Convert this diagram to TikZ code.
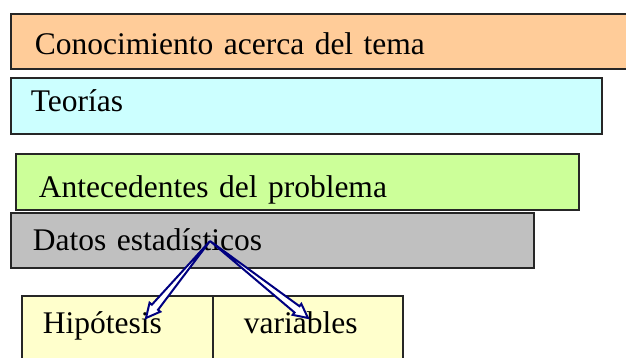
\documentclass[tikz,border=0pt]{standalone}
\usepackage{fontspec}
\setmainfont{Liberation Serif}
\usetikzlibrary{calc}
\definecolor{temaorange}{HTML}{FFCC99}
\definecolor{teoriacyan}{HTML}{CCFFFF}
\definecolor{antegreen}{HTML}{CCFF99}
\definecolor{datosgray}{HTML}{C0C0C0}
\definecolor{hipyellow}{HTML}{FFFFCC}
\definecolor{arrownavy}{HTML}{000080}
\tikzset{
  barbox/.style={rectangle, draw=black!85, line width=1.7pt, anchor=north west, align=left, inner ysep=0pt, text depth=0pt, font=\fontsize{31.5}{36}\selectfont},
  hollowarrow/.style={draw=arrownavy, line width=2pt, fill=white, line join=miter}
}

\begin{document}
\begin{tikzpicture}[x=1pt, y=-1pt]
\useasboundingbox (0,0) rectangle (626,358);
\clip (0,0) rectangle (626,358);
% Bars
\node (tema) [barbox, fill=temaorange, minimum height=55pt, inner xsep=24pt, text width=582pt, text height=27pt] at (10,13) {Conocimiento acerca del tema};
\node (teorias) [barbox, fill=teoriacyan, minimum height=56pt, inner xsep=20pt, text width=551pt, text height=12pt] at (10,77) {Teorías};
\node (antecedentes) [barbox, fill=antegreen, minimum height=56pt, inner xsep=23pt, text width=517pt, text height=32pt] at (15,153) {Antecedentes del problema};
\node (datos) [barbox, fill=datosgray, minimum height=55pt, inner xsep=22pt, text width=479pt, text height=21pt] at (10,212) {Datos estadísticos};
\node (hipotesis) [barbox, fill=hipyellow, minimum height=75pt, inner xsep=21pt, text width=149pt, text height=0pt] at (21,295) {Hipótesis};
\node (variables) [barbox, fill=hipyellow, minimum height=75pt, inner xsep=31pt, text width=128pt, text height=0pt] at (212,295) {variables};

% Arrows
\coordinate (apex) at (210,241);
\coordinate (hiptip) at (146,318);
\coordinate (vartip) at (308,318);
\foreach \tip in {hiptip,vartip}
  \draw [hollowarrow] (apex) -- ($(\tip)!14pt!(apex)!4pt!90:(\tip)$) -- ($(\tip)!14pt!(apex)!7pt!90:(\tip)$) -- (\tip) -- ($(\tip)!14pt!(apex)!7pt!-90:(\tip)$) -- ($(\tip)!14pt!(apex)!4pt!-90:(\tip)$) -- cycle;
\end{tikzpicture}
\end{document}
